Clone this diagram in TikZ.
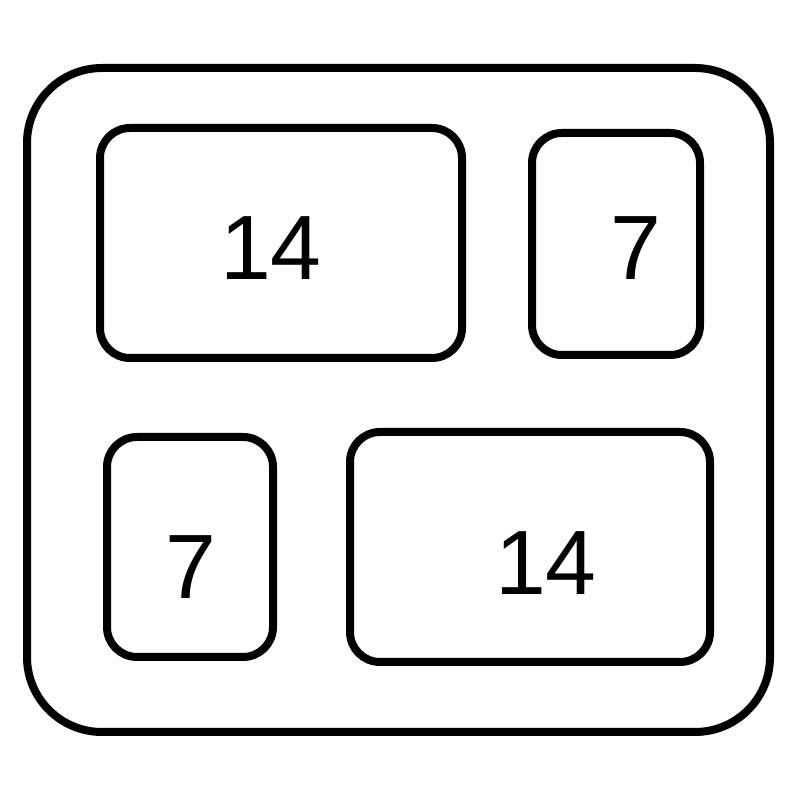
\documentclass[tikz,border=0pt]{standalone}
\usepackage{fontspec}
\setmainfont{Liberation Sans}
\usepackage{tikz}
\usetikzlibrary{positioning}
\tikzset{
tray/.style={draw,line width=0.08cm,rounded corners=0.75cm},
compartment/.style={rectangle,draw,line width=0.08cm,rounded corners=0.3cm,inner sep=0pt},
amount/.style={inner sep=0pt,font=\fontsize{26}{26}\selectfont}}

\begin{document}
\begin{tikzpicture}

\useasboundingbox (0,0) rectangle (8,8);

\draw[tray] (0.27,0.68) rectangle (7.70,7.32);

\node[compartment,minimum width=3.62cm,minimum height=2.30cm] (tl) at (2.81,5.57) {};
\node[compartment,minimum width=1.68cm,minimum height=2.22cm] (tr) at (6.16,5.56) {};
\node[compartment,minimum width=1.66cm,minimum height=2.20cm] (bl) at (1.90,2.53) {};
\node[compartment,minimum width=3.60cm,minimum height=2.30cm] (br) at (5.30,2.53) {};

\node[amount] (tl label) at (2.71,5.52) {14};
\node[amount] (tr label) at (6.36,5.52) {7};
\node[amount] (bl label) at (1.91,2.33) {7};
\node[amount] (br label) at (5.46,2.37) {14};

\end{tikzpicture}
\end{document}
